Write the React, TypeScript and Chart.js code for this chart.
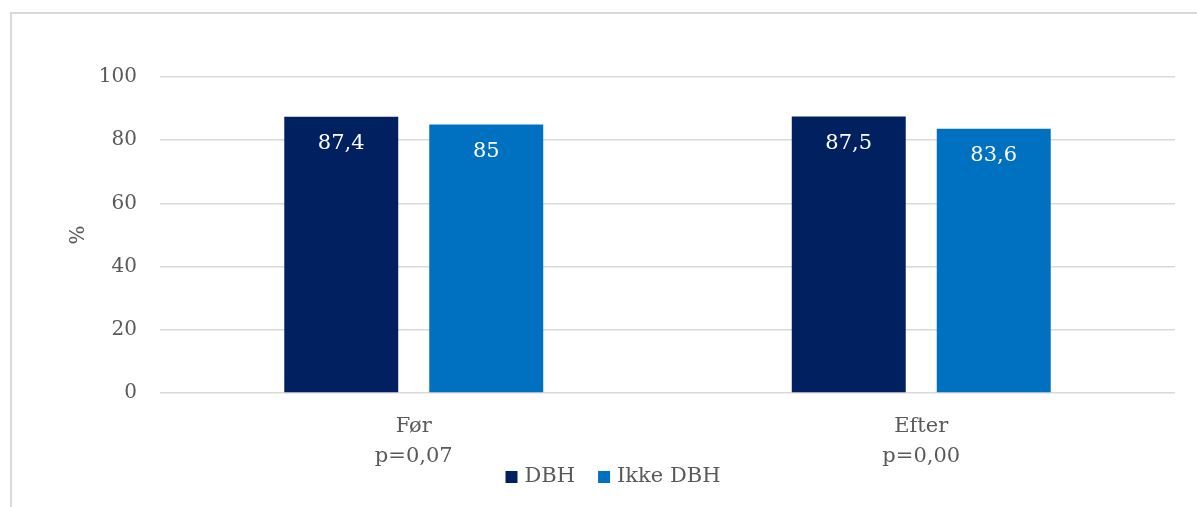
import React, { useEffect, useRef } from "react";
import { Chart, registerables } from "chart.js";

Chart.register(...registerables);

// Categories (two lines each: period and p-value)
const categories: string[][] = [
  ["Før", "p=0,07"],
  ["Efter", "p=0,00"],
];

// Series values (%)
const dbhValues = [87.4, 87.5];
const ikkeDbhValues = [85, 83.6];

const seriesNames = ["DBH", "Ikke DBH"];
const seriesColors = ["#002060", "#0070C0"];

// Y axis ticks
const yMin = 0;
const yMax = 100;
const yStep = 20;
const yTitle = "%";

const FONT = "'DejaVu Serif', Georgia, serif";
const TEXT_COLOR = "#595959";
const GRID_COLOR = "#d9d9d9";

const formatValue = (v: number) => String(v).replace(".", ",");

// White value labels inside the top of each bar
const valueLabels = {
  id: "valueLabels",
  afterDatasetsDraw(chart: any) {
    const ctx = chart.ctx;
    ctx.save();
    ctx.fillStyle = "#ffffff";
    ctx.font = `21px ${FONT}`;
    ctx.textAlign = "center";
    ctx.textBaseline = "middle";
    chart.data.datasets.forEach((ds: any, i: number) => {
      const meta = chart.getDatasetMeta(i);
      meta.data.forEach((bar: any, j: number) => {
        ctx.fillText(formatValue(ds.data[j]), bar.x, bar.y + 27);
      });
    });
    ctx.restore();
  },
};

// Legend row below the category labels
const bottomLegend = {
  id: "bottomLegend",
  afterDraw(chart: any) {
    const ctx = chart.ctx;
    ctx.save();
    ctx.font = `21px ${FONT}`;
    ctx.textBaseline = "middle";
    ctx.textAlign = "left";
    const box = 12;
    const gapBoxText = 7;
    const gapItems = 23;
    const items = chart.data.datasets.map((ds: any) => ({
      label: ds.label,
      color: ds.backgroundColor,
      w: box + gapBoxText + ctx.measureText(ds.label).width,
    }));
    const total =
      items.reduce((s: number, it: any) => s + it.w, 0) + gapItems * (items.length - 1);
    let x = 613 - total / 2;
    const cy = 477;
    items.forEach((it: any) => {
      ctx.fillStyle = it.color;
      ctx.fillRect(x, cy - box / 2, box, box);
      ctx.fillStyle = TEXT_COLOR;
      ctx.fillText(it.label, x + box + gapBoxText, cy);
      x += it.w + gapItems;
    });
    ctx.restore();
  },
};

export default function App() {
  const canvasRef = useRef<HTMLCanvasElement | null>(null);

  useEffect(() => {
    if (!canvasRef.current) return;
    const chart = new Chart(canvasRef.current, {
      type: "bar",
      data: {
        labels: categories,
        datasets: [
          {
            label: seriesNames[0],
            data: dbhValues,
            backgroundColor: seriesColors[0],
            categoryPercentage: 0.5714,
            barPercentage: 0.786,
          },
          {
            label: seriesNames[1],
            data: ikkeDbhValues,
            backgroundColor: seriesColors[1],
            categoryPercentage: 0.5714,
            barPercentage: 0.786,
          },
        ],
      },
      options: {
        responsive: false,
        animation: false,
        layout: { padding: { left: 0, right: 22, top: 77, bottom: 0 } },
        plugins: {
          legend: { display: false },
          tooltip: { enabled: false },
        },
        scales: {
          x: {
            grid: { display: false, drawTicks: false },
            border: { display: false },
            ticks: {
              color: TEXT_COLOR,
              font: { family: FONT, size: 21, lineHeight: 1.4 },
              padding: 19,
              maxRotation: 0,
              autoSkip: false,
            },
            afterFit(scale: any) {
              scale.height = 114;
            },
          },
          y: {
            min: yMin,
            max: yMax,
            grid: { color: GRID_COLOR, lineWidth: 1.5, drawTicks: false },
            border: { display: false },
            ticks: {
              stepSize: yStep,
              color: TEXT_COLOR,
              font: { family: FONT, size: 20 },
              padding: 23,
            },
            title: {
              display: true,
              text: yTitle,
              color: TEXT_COLOR,
              font: { family: FONT, size: 20, lineHeight: 1.2 },
              padding: { top: 67, bottom: 0 },
            },
            afterFit(scale: any) {
              scale.width = 160;
            },
          },
        },
      },
      plugins: [valueLabels, bottomLegend],
    });
    return () => chart.destroy();
  }, []);

  return (
    <div
      style={{
        position: "fixed",
        left: 0,
        top: 0,
        width: 1197,
        height: 507,
        background: "#ffffff",
        overflow: "hidden",
      }}
    >
      <div
        style={{
          position: "absolute",
          left: 10,
          top: 12,
          width: 1200,
          height: 520,
          border: `2px solid ${GRID_COLOR}`,
          boxSizing: "border-box",
        }}
      />
      <canvas
        ref={canvasRef}
        width={1197}
        height={507}
        style={{ position: "absolute", left: 0, top: 0, width: 1197, height: 507 }}
      />
    </div>
  );
}
